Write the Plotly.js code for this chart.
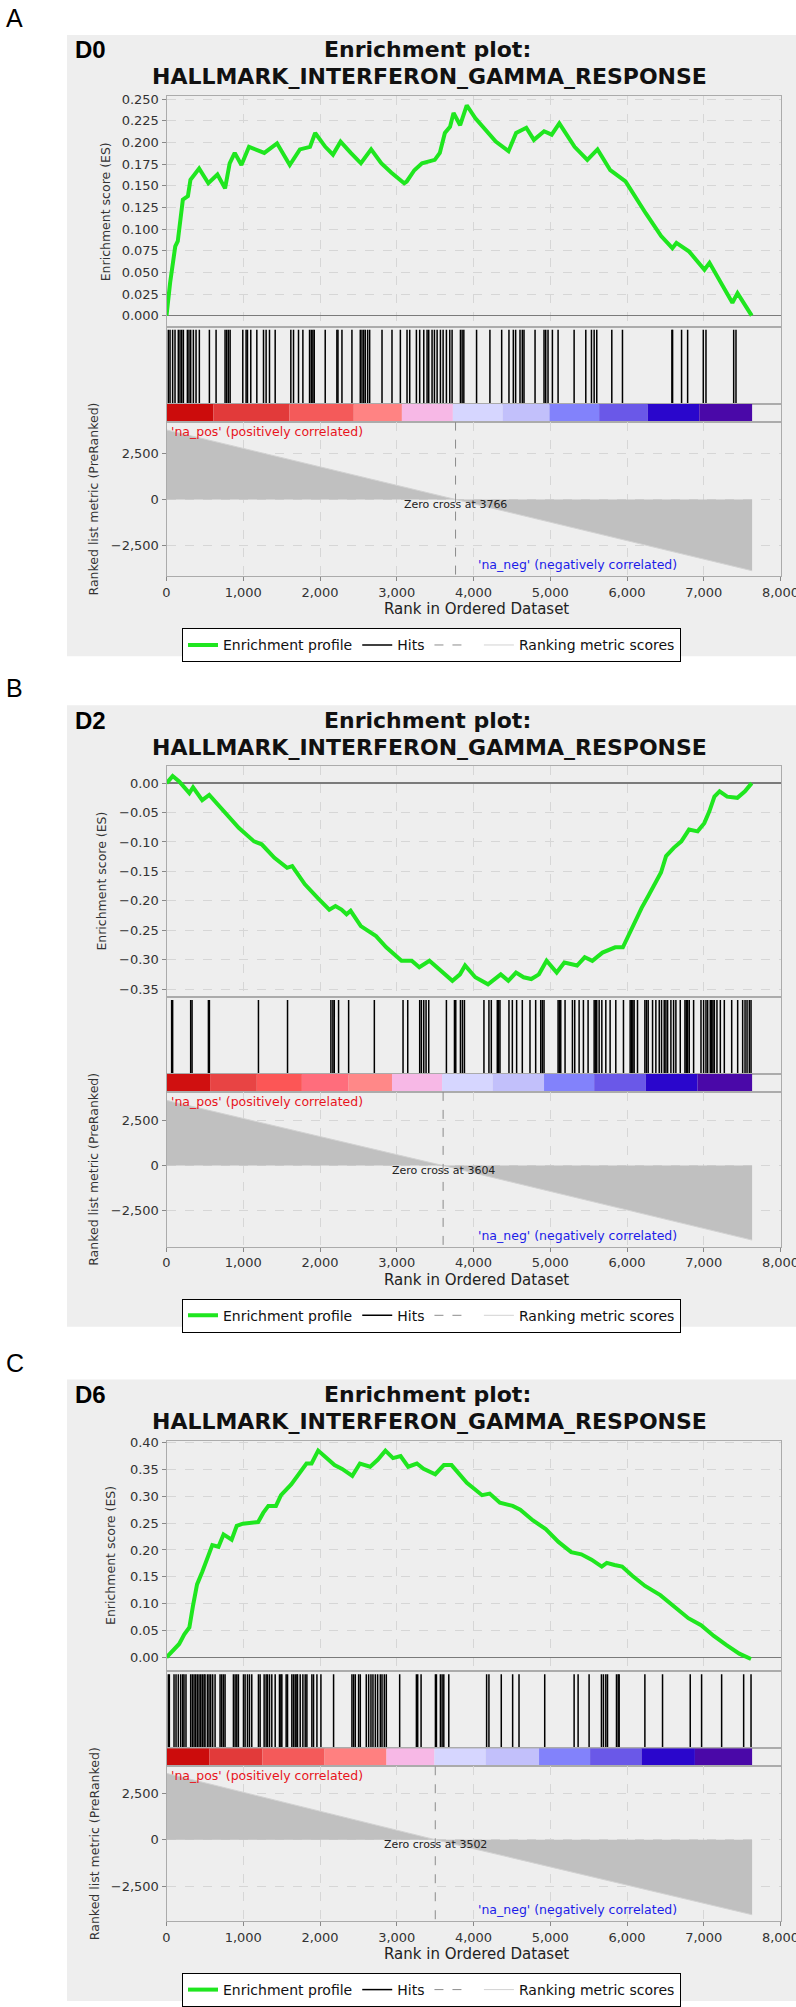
<!DOCTYPE html>
<html>
<head>
<meta charset="utf-8">
<script src="https://cdn.plot.ly/plotly-3.0.1.min.js"></script>
<style>
  html, body { margin: 0; padding: 0; background: #fff; }
  #chart { width: 796px; height: 2007px; }
</style>
</head>
<body>
<div id="chart"></div>
<script>
/* -------------------- DATA -------------------- */

const panelLetters = ['A', 'B', 'C'];
const dayLabels = ['D0', 'D2', 'D6'];
const geneSet = 'HALLMARK_INTERFERON_GAMMA_RESPONSE';
const zeroCross = [3766, 3604, 3502];
const listSize = 7630;
const xTicks = [0, 1000, 2000, 3000, 4000, 5000, 6000, 7000, 8000];
const metricTicks = [-2500, 0, 2500];

// running enrichment score
const esRankD0 = [0, 47, 114, 147, 213, 279, 312, 425, 545, 664, 763, 823, 889, 976, 1075, 1274, 1440, 1606, 1738, 1870,
  1937, 2069, 2169, 2268, 2401, 2533, 2666, 2798, 2931, 3097, 3130, 3229, 3329, 3495, 3561, 3627, 3694, 3740, 3826, 3912,
  4025, 4158, 4290, 4456, 4555, 4688, 4787, 4920, 5019, 5118, 5317, 5483, 5616, 5782, 5981, 6246, 6445, 6591, 6644, 6810,
  7009, 7075, 7240, 7373, 7440, 7625];
const esScoreD0 = [0, 0.038, 0.080, 0.086, 0.134, 0.138, 0.157, 0.170, 0.153, 0.163, 0.147, 0.176, 0.188, 0.174, 0.195, 0.188, 0.199, 0.174, 0.192, 0.195,
  0.211, 0.195, 0.186, 0.201, 0.188, 0.176, 0.192, 0.176, 0.165, 0.153, 0.155, 0.168, 0.176, 0.180, 0.188, 0.211, 0.218, 0.234, 0.220, 0.243,
  0.228, 0.215, 0.201, 0.190, 0.211, 0.217, 0.203, 0.213, 0.209, 0.222, 0.195, 0.180, 0.192, 0.168, 0.155, 0.118, 0.092, 0.078, 0.084, 0.074,
  0.053, 0.061, 0.036, 0.015, 0.026, 0.000];

const esRankD2 = [0, 80, 165, 298, 346, 465, 557, 743, 941, 1140, 1240, 1406, 1571, 1638, 1803, 1969, 2121, 2201, 2280, 2346,
  2399, 2532, 2730, 2863, 3062, 3195, 3294, 3426, 3592, 3725, 3824, 3890, 4023, 4189, 4355, 4454, 4554, 4653, 4753, 4852,
  4952, 5084, 5184, 5349, 5449, 5548, 5681, 5846, 5946, 6012, 6098, 6191, 6277, 6344, 6443, 6509, 6609, 6708, 6808, 6920,
  7007, 7073, 7139, 7206, 7305, 7438, 7537, 7625];
const esScoreD2 = [0, 0.012, 0.003, -0.017, -0.007, -0.029, -0.020, -0.048, -0.076, -0.099, -0.104, -0.127, -0.144, -0.141, -0.172, -0.195, -0.215, -0.209, -0.215, -0.223,
  -0.217, -0.243, -0.260, -0.279, -0.302, -0.302, -0.313, -0.302, -0.322, -0.336, -0.325, -0.310, -0.330, -0.342, -0.325, -0.336, -0.322, -0.330, -0.333, -0.325,
  -0.302, -0.322, -0.305, -0.310, -0.296, -0.302, -0.288, -0.279, -0.279, -0.260, -0.237, -0.212, -0.192, -0.175, -0.152, -0.124, -0.110, -0.099, -0.079, -0.082,
  -0.068, -0.048, -0.023, -0.014, -0.023, -0.025, -0.014, 0];

const esRankD6 = [0, 66, 165, 232, 298, 345, 398, 465, 531, 597, 677, 743, 849, 915, 995, 1194, 1260, 1327, 1426, 1492,
  1625, 1724, 1824, 1890, 1976, 2056, 2189, 2288, 2421, 2520, 2653, 2752, 2852, 2951, 3050, 3149, 3262, 3349, 3502, 3614,
  3714, 3913, 4112, 4211, 4344, 4510, 4609, 4775, 4941, 5107, 5273, 5405, 5538, 5671, 5737, 5837, 5936, 6069, 6235, 6434,
  6600, 6799, 6965, 7131, 7297, 7463, 7616];
const esScoreD6 = [0, 0.010, 0.025, 0.043, 0.056, 0.096, 0.136, 0.159, 0.182, 0.209, 0.206, 0.229, 0.219, 0.245, 0.249, 0.252, 0.269, 0.282, 0.282, 0.302,
  0.322, 0.341, 0.361, 0.361, 0.385, 0.375, 0.358, 0.351, 0.338, 0.361, 0.355, 0.368, 0.385, 0.371, 0.375, 0.355, 0.361, 0.351, 0.341, 0.358,
  0.358, 0.325, 0.302, 0.305, 0.288, 0.282, 0.275, 0.255, 0.239, 0.215, 0.196, 0.192, 0.182, 0.169, 0.176, 0.172, 0.169, 0.152, 0.133, 0.116,
  0.096, 0.073, 0.060, 0.040, 0.023, 0.007, -0.003];

// gene set hit positions (rank)
const hitsD0 = [24, 46, 80, 111, 154, 176, 198, 220, 272, 293, 315, 350, 385, 428, 559, 646, 763, 785, 807, 829,
  994, 1037, 1055, 1098, 1177, 1264, 1298, 1342, 1416, 1620, 1655, 1720, 1777, 1864, 1886, 1907, 1925, 2068, 2220, 2234,
  2286, 2416, 2525, 2547, 2569, 2590, 2621, 2647, 2808, 2938, 3047, 3134, 3169, 3256, 3299, 3352, 3395, 3417, 3460, 3491,
  3526, 3569, 3604, 3647, 3691, 3721, 3830, 3852, 3874, 4040, 4214, 4367, 4462, 4519, 4549, 4606, 4636, 4658, 4802, 4919,
  4941, 4971, 5028, 5102, 5311, 5463, 5537, 5572, 5606, 5802, 5941, 6585, 6594, 6711, 6790, 6994, 7029, 7390, 7420];

const hitsD2 = [67, 80, 315, 333, 546, 559, 1198, 1577, 2142, 2168, 2186, 2242, 2373, 2708, 3082, 3143, 3299, 3321, 3352, 3382,
  3417, 3647, 3752, 3769, 3830, 3856, 3882, 4136, 4201, 4232, 4310, 4327, 4345, 4462, 4506, 4562, 4636, 4736, 4810, 4876,
  4897, 4919, 5102, 5119, 5137, 5193, 5289, 5319, 5376, 5432, 5493, 5572, 5589, 5606, 5637, 5672, 5724, 5780, 5854, 5954,
  6041, 6059, 6076, 6093, 6137, 6233, 6254, 6276, 6333, 6376, 6420, 6450, 6485, 6507, 6529, 6572, 6607, 6637, 6694, 6755,
  6772, 6790, 6811, 6868, 6964, 6998, 7029, 7051, 7085, 7103, 7120, 7138, 7172, 7216, 7268, 7364, 7442, 7507, 7538, 7564,
  7594, 7616];

const hitsD6 = [24, 37, 98, 124, 154, 185, 211, 228, 254, 315, 337, 359, 380, 402, 424, 446, 467, 489, 502, 533,
  554, 576, 602, 633, 698, 720, 742, 763, 872, 894, 916, 937, 1003, 1024, 1055, 1081, 1111, 1198, 1220, 1272,
  1298, 1316, 1342, 1372, 1416, 1472, 1490, 1503, 1559, 1577, 1633, 1655, 1677, 1699, 1707, 1742, 1777, 1807, 1829, 1894,
  1916, 1960, 2012, 2177, 2416, 2438, 2460, 2503, 2525, 2603, 2634, 2664, 2690, 2721, 2751, 2786, 2808, 2838, 2864, 3038,
  3256, 3273, 3317, 3504, 3517, 3569, 3591, 3613, 3678, 4171, 4201, 4362, 4510, 4593, 4928, 5311, 5363, 5506, 5667, 5693,
  5724, 5746, 5863, 5885, 5898, 6233, 6463, 6824, 6972, 7233, 7520, 7616];

// colour bar blocks (start rank of each block, block colour)
const barStartD0 = [0, 611, 1600, 2440, 3067, 3731, 4380, 4990, 5637, 6270, 6942];
const barColorD0 = ['#cc0c0c', '#e23a3a', '#f45a5a', '#ff8383', '#f7b8e6', '#d6d6ff', '#c2c0fb', '#8282fb', '#6a58e8', '#2a06cc', '#4a08a8'];
const barStartD2 = [0, 568, 1177, 1764, 2373, 2938, 3591, 4250, 4919, 5572, 6246, 6920];
const barColorD2 = ['#d01010', '#e84444', '#fc5656', '#ff6d7c', '#ff8888', '#f7b8e6', '#d6d6ff', '#c2c0fb', '#8282fb', '#6a58e8', '#2a06cc', '#4a08a8'];
const barStartD6 = [0, 558, 1250, 2060, 2866, 3491, 4158, 4854, 5519, 6189, 6885];
const barColorD6 = ['#cc0c0c', '#e23a3a', '#f45a5a', '#ff8080', '#f7b8e6', '#d6d6ff', '#c2c0fb', '#8282fb', '#6a58e8', '#2a06cc', '#4a08a8'];

// ranked list metric (straight ramp through the zero cross)
const metricRankD0 = [0, 3766, 7630];
const metricScoreD0 = [3800, 0, -3890];
const metricRankD2 = [0, 3604, 7630];
const metricScoreD2 = [3630, 0, -4150];
const metricRankD6 = [0, 3502, 7630];
const metricScoreD6 = [3560, 0, -4030];

/* -------------------- LAYOUT HELPERS -------------------- */

const W = 796, H = 2007;
const OFFSET = [0, 671, 1346];
const X_DOMAIN = [166.5 / W, 780.5 / W];
const X_RANGE = [0, 8000];
const FONT = '"DejaVu Sans", sans-serif';
const GRID = '#d6d6d6';
const FRAME = '#ababab';
const TICK_FONT = { family: FONT, size: 13, color: '#333' };

const px = v => v / W;
const py = v => 1 - v / H;

const panels = [
  { esX: esRankD0, esY: esScoreD0, hits: hitsD0, barStart: barStartD0, barColor: barColorD0,
    mX: metricRankD0, mY: metricScoreD0, esRange: [-0.0127, 0.2538], esDtick: 0.025, esFmt: '.3f',
    mRange: [-4200, 4255], esTitleX: 105 },
  { esX: esRankD2, esY: esScoreD2, hits: hitsD2, barStart: barStartD2, barColor: barColorD2,
    mX: metricRankD2, mY: metricScoreD2, esRange: [-0.3635, 0.0287], esDtick: 0.05, esFmt: '.2f',
    mRange: [-4520, 4100], esTitleX: 102 },
  { esX: esRankD6, esY: esScoreD6, hits: hitsD6, barStart: barStartD6, barColor: barColorD6,
    mX: metricRankD6, mY: metricScoreD6, esRange: [-0.0259, 0.4037], esDtick: 0.05, esFmt: '.2f',
    mRange: [-4370, 3940], esTitleX: 111 }
];

const traces = [];
const layout = {
  width: W, height: H,
  margin: { l: 0, r: 0, t: 0, b: 0 },
  paper_bgcolor: '#fff', plot_bgcolor: '#fff',
  showlegend: true, hovermode: false,
  shapes: [], annotations: []
};

/* -------------------- PANELS -------------------- */

panels.forEach((p, i) => {
  const o = OFFSET[i];
  const id = k => { const n = i * 4 + k + 1; return n === 1 ? '' : String(n); };
  const [es, hit, bar, met] = [0, 1, 2, 3].map(id);
  const leg = i === 0 ? 'legend' : 'legend' + (i + 1);
  const zc = zeroCross[i];

  // grey panel background
  layout.shapes.push({
    type: 'rect', xref: 'paper', yref: 'paper', layer: 'below',
    x0: px(67), x1: 1, y0: py(o + 657), y1: py(o + 35),
    fillcolor: '#eeeeee', line: { width: 0 }
  });

  const baseX = { domain: X_DOMAIN, range: X_RANGE, showline: true, mirror: true, linecolor: FRAME,
    zeroline: false, showticklabels: false, ticks: '', tickvals: xTicks };
  layout['xaxis' + es] = { ...baseX, anchor: 'y' + es, showgrid: true, gridcolor: GRID, griddash: 'dash' };
  layout['xaxis' + hit] = { ...baseX, anchor: 'y' + hit, showgrid: false };
  layout['xaxis' + bar] = { ...baseX, anchor: 'y' + bar, showgrid: false };
  layout['xaxis' + met] = { ...baseX, anchor: 'y' + met, showgrid: true, gridcolor: GRID, griddash: 'dash',
    showticklabels: true, tickformat: ',d', ticks: 'outside', ticklen: 4, tickcolor: '#888', tickfont: TICK_FONT,
    ticklabeloverflow: 'allow' };

  layout['yaxis' + es] = { domain: [py(o + 327), py(o + 96)], range: p.esRange, anchor: 'x' + es,
    tick0: 0, dtick: p.esDtick, tickformat: p.esFmt, ticks: 'outside', ticklen: 4, tickcolor: '#888',
    tickfont: TICK_FONT, showgrid: true, gridcolor: GRID, griddash: 'dash',
    zeroline: true, zerolinecolor: '#7a7a7a', zerolinewidth: 1.5,
    showline: true, mirror: true, linecolor: FRAME };
  layout['yaxis' + hit] = { domain: [py(o + 404), py(o + 327)], range: [0, 1.04], anchor: 'x' + hit,
    showticklabels: false, showgrid: false, zeroline: false, showline: true, mirror: true, linecolor: FRAME };
  layout['yaxis' + bar] = { domain: [py(o + 422), py(o + 404)], range: [0, 1], anchor: 'x' + bar,
    showticklabels: false, showgrid: false, zeroline: false, showline: true, mirror: true, linecolor: FRAME };
  layout['yaxis' + met] = { domain: [py(o + 577), py(o + 422)], range: p.mRange, anchor: 'x' + met,
    tickvals: metricTicks, tickformat: ',d', ticks: 'outside', ticklen: 4, tickcolor: '#888', tickfont: TICK_FONT,
    showgrid: true, gridcolor: GRID, griddash: 'dash', zeroline: false,
    showline: true, mirror: true, linecolor: FRAME };

  // enrichment profile
  traces.push({
    type: 'scatter', mode: 'lines', x: p.esX, y: p.esY,
    xaxis: 'x' + es, yaxis: 'y' + es,
    name: 'Enrichment profile', legend: leg, legendrank: 1,
    line: { color: '#1fe61f', width: 4 }
  });

  // hits
  const hx = [], hy = [];
  p.hits.forEach(h => { hx.push(h, h, null); hy.push(0, 1, null); });
  traces.push({
    type: 'scatter', mode: 'lines', x: hx, y: hy,
    xaxis: 'x' + hit, yaxis: 'y' + hit,
    name: 'Hits', legend: leg, legendrank: 2,
    line: { color: '#000', width: 1.5 }
  });

  // colour bar
  const ends = p.barStart.slice(1).concat(listSize);
  traces.push({
    type: 'bar',
    x: p.barStart.map((s, k) => (s + ends[k]) / 2),
    width: p.barStart.map((s, k) => ends[k] - s),
    y: p.barStart.map(() => 1),
    marker: { color: p.barColor, line: { width: 0 } },
    xaxis: 'x' + bar, yaxis: 'y' + bar, showlegend: false
  });

  // ranked list metric
  traces.push({
    type: 'scatter', mode: 'lines', x: p.mX, y: p.mY, fill: 'tozeroy',
    fillcolor: '#c0c0c0', line: { width: 0, color: '#c0c0c0' },
    xaxis: 'x' + met, yaxis: 'y' + met, showlegend: false
  });
  traces.push({
    type: 'scatter', mode: 'lines', x: p.mX, y: p.mY,
    xaxis: 'x' + met, yaxis: 'y' + met,
    name: 'Ranking metric scores', legend: leg, legendrank: 4,
    line: { color: '#d2d2d2', width: 1 }
  });
  traces.push({
    type: 'scatter', mode: 'lines', x: [zc, zc], y: [p.mRange[1], p.mRange[0]],
    xaxis: 'x' + met, yaxis: 'y' + met,
    name: ' ', legend: leg, legendrank: 3,
    line: { color: '#8c8c8c', width: 1, dash: 'dash' }
  });

  layout[leg] = {
    x: px(431.5), xanchor: 'center', y: py(o + 629), yanchor: 'top',
    orientation: 'h', bgcolor: '#fff', bordercolor: '#000', borderwidth: 1,
    font: { family: FONT, size: 14, color: '#111' }
  };

  const ann = (extra) => layout.annotations.push({ showarrow: false, xref: 'paper', yref: 'paper', ...extra });

  ann({ x: px(4), y: py(o + 18), xanchor: 'left', yanchor: 'middle', text: panelLetters[i],
    font: { family: '"Liberation Sans", Arial, sans-serif', size: 25, color: '#000' } });
  ann({ x: px(73), y: py(o + 50), xanchor: 'left', yanchor: 'middle', text: '<b>' + dayLabels[i] + '</b>',
    font: { family: '"Liberation Sans", Arial, sans-serif', size: 24, color: '#000' } });
  ann({ x: px(427), y: py(o + 50), xanchor: 'center', yanchor: 'middle', text: '<b>Enrichment plot:</b>',
    font: { family: FONT, size: 22, color: '#111' } });
  ann({ x: px(429), y: py(o + 77), xanchor: 'center', yanchor: 'middle', text: '<b>' + geneSet + '</b>',
    font: { family: FONT, size: 22, color: '#111' } });
  ann({ x: px(p.esTitleX), y: py(o + 211.5), xanchor: 'center', yanchor: 'middle', textangle: -90,
    text: 'Enrichment score (ES)', font: { family: FONT, size: 12.5, color: '#333' } });
  ann({ x: px(94), y: py(o + 500), xanchor: 'center', yanchor: 'middle', textangle: -90,
    text: 'Ranked list metric (PreRanked)', font: { family: FONT, size: 12.5, color: '#333' } });
  ann({ x: px(476), y: py(o + 610), xanchor: 'center', yanchor: 'middle',
    text: 'Rank in Ordered Dataset', font: { family: FONT, size: 15, color: '#222' } });

  layout.annotations.push({
    showarrow: false, xref: 'x' + met, yref: 'y' + met, x: zc, y: 0, yshift: -5,
    xanchor: 'center', yanchor: 'middle', text: 'Zero cross at ' + zc,
    font: { family: FONT, size: 11, color: '#222' }
  });
  layout.annotations.push({
    showarrow: false, xref: 'x' + met, yref: 'y' + met + ' domain', x: 0, y: 1, xshift: 2,
    xanchor: 'left', yanchor: 'top', text: "'na_pos' (positively correlated)",
    font: { family: FONT, size: 12.5, color: '#e8141c' }
  });
  layout.annotations.push({
    showarrow: false, xref: 'x' + met, yref: 'y' + met + ' domain', x: 4030, y: 0, yshift: 2,
    xanchor: 'left', yanchor: 'bottom', text: "'na_neg' (negatively correlated)",
    font: { family: FONT, size: 12.5, color: '#1c1ce8' }
  });
});

Plotly.newPlot('chart', traces, layout, { displayModeBar: false, staticPlot: true });
</script>
</body>
</html>
